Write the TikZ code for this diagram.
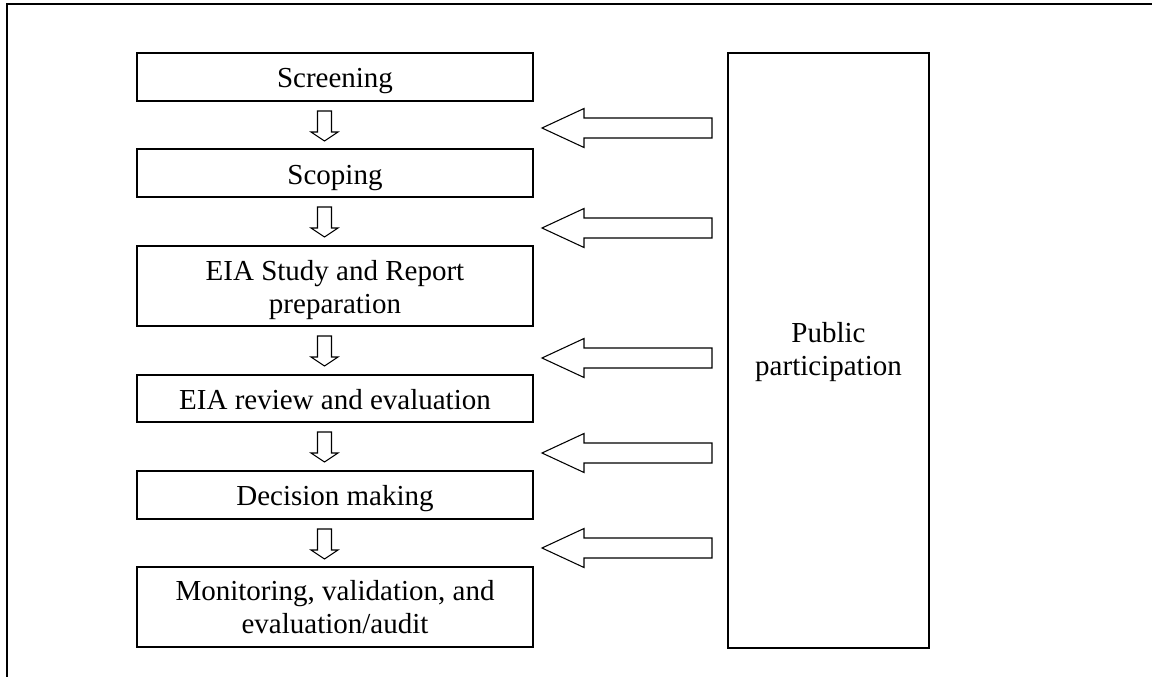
\documentclass[tikz,border=0pt]{standalone}
\usepackage{fontspec}
\setmainfont{Liberation Serif}
\begin{document}
\begin{tikzpicture}[x=0.75pt,y=-0.75pt,
  box/.style={draw=black,line width=1.5pt,rectangle,inner sep=0pt,minimum width=297pt},
  lbl/.style={anchor=base,align=center,inner sep=0pt,font=\fontsize{21.75}{24.75}\selectfont},
  blockarrow/.style={draw=black,line width=0.8pt,fill=white,line join=miter},
  frame/.style={draw=black,line width=1.1pt}]
\useasboundingbox (0,0) rectangle (1152,677);
% outer frame (only top and left visible)
\draw[frame] (7,680) -- (7,4) -- (1155,4);
% process boxes
\node[box,minimum height=36pt] (b1) at (335,77) {};
\node[box,minimum height=36pt] (b2) at (335,173) {};
\node[box,minimum height=60pt] (b3) at (335,286) {};
\node[box,minimum height=35.25pt] (b4) at (335,398.5) {};
\node[box,minimum height=36pt] (b5) at (335,495) {};
\node[box,minimum height=60pt] (b6) at (335,607) {};
\node[box,minimum width=150.75pt,minimum height=446.25pt] (pp) at (828.5,350.5) {};
% labels (base anchor = baseline of the last line)
\node[lbl] (t1) at (335,88) {Screening};
\node[lbl] (t2) at (335,185) {Scoping};
\node[lbl] (t3) at (335,313) {EIA Study and Report\\preparation};
\node[lbl] (t4) at (335,409) {EIA review and evaluation};
\node[lbl] (t5) at (335,505) {Decision making};
\node[lbl] (t6) at (335,633) {Monitoring, validation, and\\evaluation/audit};
\node[lbl] (tp) at (828.5,375) {Public\\participation};
% small downward block arrows between the process boxes
\foreach \y in {111,207,336,432,529}{
  \draw[blockarrow] (317.5,\y) -- (331.5,\y) -- (331.5,\y+21) -- (338,\y+21)
    -- (324.5,\y+30) -- (311,\y+21) -- (317.5,\y+21) -- cycle;
}
% large leftward block arrows from public participation
\foreach \c in {128,228,358,453,548}{
  \draw[blockarrow] (712,\c-10) -- (584,\c-10) -- (584,\c-19.5) -- (542,\c)
    -- (584,\c+19.5) -- (584,\c+10) -- (712,\c+10) -- cycle;
}
\end{tikzpicture}
\end{document}
